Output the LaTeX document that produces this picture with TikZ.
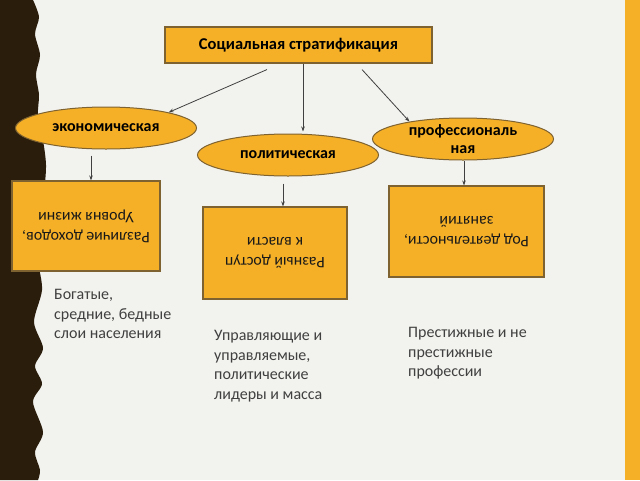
\documentclass[tikz,border=0pt]{standalone}
\usepackage{fontspec}
\setmainfont{Carlito}
\usepackage{tikz}
\usetikzlibrary{
	arrows.meta,									% 箭头样式
	positioning,									% 节点的摆放
	shapes.geometric,								% 椭圆
}
\definecolor{bgGrey}{HTML}{F2F2EE}
\definecolor{darkBrown}{HTML}{2A1D0C}
\definecolor{boxOrange}{HTML}{F5B027}
\definecolor{edgeBrown}{HTML}{7E6230}
\definecolor{noteGrey}{HTML}{404040}
\tikzset{
	orangebox/.style={rectangle, draw=edgeBrown, fill=boxOrange, line width=1.1pt, inner sep=0pt},
	layer/.style={ellipse, draw=edgeBrown, fill=boxOrange, line width=1pt, inner sep=0pt,
		minimum width=181pt, minimum height=42pt, font=\fontsize{16pt}{17.5pt}\selectfont\bfseries},
	note/.style={anchor=north west, inner sep=0pt, align=left, text=noteGrey,
		font=\fontsize{16pt}{19.5pt}\selectfont},
	flip/.style={rotate=180, align=center, inner sep=0pt, text=black!90,
		font=\fontsize{16pt}{20pt}\selectfont},
	conn/.style={->, draw=black!75, line width=0.8pt},
}

\begin{document}
\begin{tikzpicture}[x=1pt, y=-1pt, >={Stealth[length=5pt, width=3.5pt]}]
		\useasboundingbox (0,0) rectangle (640,480);
		\fill[bgGrey] (0,0) rectangle (640,480);				% 背景
		\fill[boxOrange] (625,0) rectangle (640,480);			% 右边的色条
		\fill[darkBrown] (0,0) -- plot[smooth] coordinates {(33,0) (39,17) (35,34) (40,55) (36,74) (39,95) (38,115)
			(43,140) (46,165) (44,190) (38,215) (36,240) (38,262) (42,290) (34,322) (43,348) (35,366)
			(42,384) (33,402) (43,432) (35,452) (40,470) (38,480)} -- (0,480) -- cycle;	% 左边的波浪

		\node[orangebox, minimum width=267pt, minimum height=36pt, font=\fontsize{16.5pt}{18pt}\selectfont\bfseries]
			(strat) at (298.5,45) {Социальная стратификация};

		\node[layer] (econ) at (106,128) {экономическая};
		\node[layer] (pol) at (288,155) {политическая};
		\node[layer, label={[align=center, font=\fontsize{16pt}{18pt}\selectfont\bfseries]center:профессиональ\\ная}]
			(prof) at (463,139) {};

		% 倒置的文字
		\node[orangebox, minimum width=148pt, minimum height=90pt,
			label={[flip]center:Различие доходов,\\Уровня жизни}] (box1) at (86,226) {};
		\node[orangebox, minimum width=144pt, minimum height=92pt,
			label={[flip]center:Разный доступ\\к власти}] (box2) at (275,253) {};
		\node[orangebox, minimum width=155pt, minimum height=91pt,
			label={[flip]center:Род деятельности,\\занятий}] (box3) at (466.5,231.5) {};

		\node[note] (rich) at (54,289.5) {Богатые,\\средние, бедные\\слои населения};
		\node[note] (power) at (214,330.5) {Управляющие и\\управляемые,\\политические\\лидеры и масса};
		\node[note] (prest) at (408,327.5) {Престижные и не\\престижные\\профессии};

		\draw[conn] ([xshift=-31.5pt, yshift=-6pt]strat.south) -- (econ.14);
		\draw[conn] ([xshift=4.5pt]strat.south) -- ([xshift=15pt, yshift=2pt]pol.north);
		\draw[conn] ([xshift=63.5pt, yshift=-6pt]strat.south) -- (prof.162);
		\draw[conn] ([xshift=-15pt, yshift=-6pt]econ.south) -- ([xshift=5pt]box1.north);
		\draw[conn] ([xshift=-5pt, yshift=-7pt]pol.south) -- ([xshift=8pt]box2.north);
		\draw[conn] ([xshift=1pt]prof.south) -- ([xshift=-2.5pt]box3.north);
	\end{tikzpicture}
\end{document}
